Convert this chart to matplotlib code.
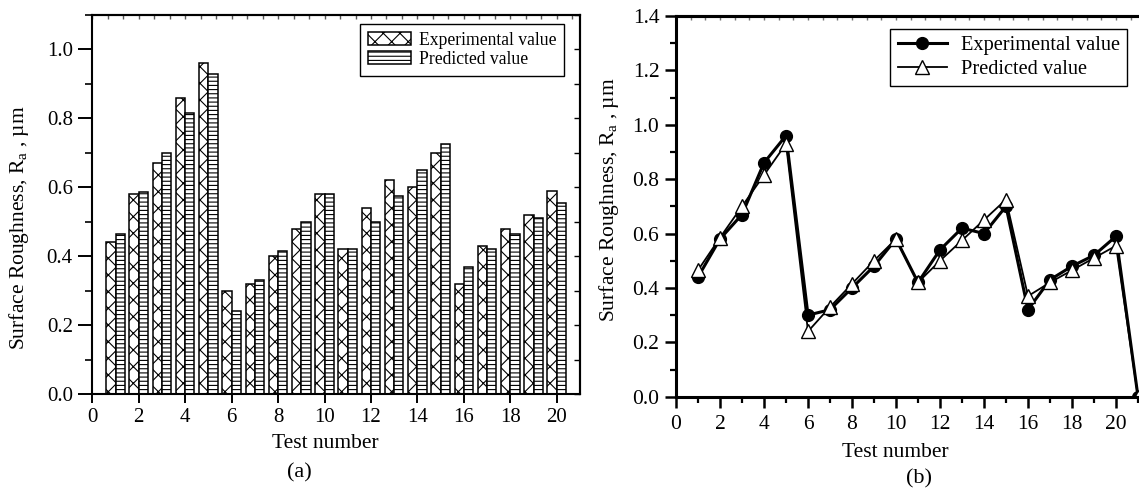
import numpy as np
import matplotlib
matplotlib.use("Agg")
import matplotlib.pyplot as plt
from matplotlib.ticker import MultipleLocator

plt.rcParams['font.family'] = ['Liberation Serif', 'DejaVu Serif']
plt.rcParams['mathtext.default'] = 'regular'
plt.rcParams['hatch.linewidth'] = 0.8

# test numbers and surface roughness Ra (um)
tests = list(range(1, 21))
experimental = [0.44, 0.58, 0.67, 0.86, 0.96, 0.30, 0.32, 0.40, 0.48, 0.58,
                0.42, 0.54, 0.62, 0.60, 0.70, 0.32, 0.43, 0.48, 0.52, 0.59]
predicted = [0.465, 0.585, 0.70, 0.815, 0.93, 0.24, 0.33, 0.415, 0.50, 0.58,
             0.42, 0.50, 0.575, 0.65, 0.725, 0.37, 0.42, 0.465, 0.51, 0.555]
# panel (b) has an extra trailing point at zero
tests_b = tests + [21]
experimental_b = experimental + [0.0]
predicted_b = predicted + [0.0]

ylabel = 'Surface Roughness, R$_a$ , \u00b5m'

W, H = 1139, 488
fig = plt.figure(figsize=(W / 100, H / 100), dpi=100)

# ---------------- (a) bar chart ----------------
ax1 = fig.add_axes([92.3 / W, 1 - 394 / H, (580 - 92.3) / W, (394 - 15) / H])
x = np.array(tests)
ax1.bar(x - 0.2, experimental, width=0.4, color='white', edgecolor='black',
        hatch='xx', linewidth=1.1, label='Experimental value')
ax1.bar(x + 0.2, predicted, width=0.4, color='white', edgecolor='black',
        hatch='----', linewidth=1.1, label='Predicted value')
ax1.set_xlim(0, 21)
ax1.set_ylim(0, 1.1)
ax1.xaxis.set_major_locator(MultipleLocator(2))
ax1.yaxis.set_major_locator(MultipleLocator(0.2))
ax1.yaxis.set_minor_locator(MultipleLocator(0.1))
ax1.yaxis.set_major_formatter(matplotlib.ticker.FormatStrFormatter('%.1f'))
ax1.tick_params(axis='x', which='major', direction='out', length=6.5, width=1.4,
                labelsize=15, pad=3.5)
ax1.tick_params(axis='y', which='major', direction='out', length=10, width=1.4,
                labelsize=15, pad=4)
ax1.tick_params(axis='y', which='minor', direction='out', length=5, width=1.2)
for s in ax1.spines.values():
    s.set_linewidth(1.5)
top1 = ax1.secondary_xaxis('top')
top1.xaxis.set_major_locator(MultipleLocator(2 / 3))
top1.tick_params(direction='in', length=3, width=1, color='0.35', labeltop=False)
top1.spines['top'].set_linewidth(1.5)
right1 = ax1.secondary_yaxis('right')
right1.yaxis.set_major_locator(MultipleLocator(0.1))
right1.tick_params(direction='in', length=4, width=1, labelright=False)
right1.spines['right'].set_linewidth(1.5)
ax1.set_xlabel('Test number', fontsize=15.5)
ax1.xaxis.set_label_coords(0.478, -0.105)
ax1.set_ylabel(ylabel, fontsize=15.5)
ax1.yaxis.set_label_coords(-0.126, 0.44)
leg1 = ax1.legend(loc='upper right', bbox_to_anchor=(564 / W, 1 - 24 / H),
                  bbox_transform=fig.transFigure, borderaxespad=0, fontsize=12.7,
                  fancybox=False, edgecolor='black', framealpha=1,
                  handlelength=2.4, handleheight=0.75, handletextpad=0.45,
                  labelspacing=0.12, borderpad=0.45)
leg1.get_frame().set_linewidth(1.0)

# ---------------- (b) line chart ----------------
ax2 = fig.add_axes([676 / W, 1 - 396.7 / H, 21.5 * 22 / W, (396.7 - 16) / H])
ax2.plot(tests_b, experimental_b, color='black', linewidth=2.2, marker='o',
         markersize=8.5, markerfacecolor='black', markeredgecolor='black',
         label='Experimental value')
ax2.plot(tests_b, predicted_b, color='black', linewidth=1.3, marker='^',
         markersize=10, markerfacecolor='white', markeredgecolor='black',
         markeredgewidth=1.0, label='Predicted value')
ax2.set_xlim(0, 21.5)
ax2.set_ylim(0, 1.4)
ax2.xaxis.set_major_locator(MultipleLocator(2))
ax2.xaxis.set_minor_locator(MultipleLocator(1))
ax2.yaxis.set_major_locator(MultipleLocator(0.2))
ax2.yaxis.set_minor_locator(MultipleLocator(0.1))
ax2.yaxis.set_major_formatter(matplotlib.ticker.FormatStrFormatter('%.1f'))
ax2.tick_params(which='major', direction='out', length=8, width=1.8,
                labelsize=15.5)
ax2.tick_params(axis='x', which='major', pad=5)
ax2.tick_params(axis='y', which='major', pad=4)
ax2.tick_params(which='minor', direction='out', length=4.5, width=1.6)
for s in ax2.spines.values():
    s.set_linewidth(2.2)
top2 = ax2.secondary_xaxis('top')
top2.xaxis.set_major_locator(MultipleLocator(2 / 3))
top2.tick_params(direction='in', length=3, width=1, color='0.45', labeltop=False)
top2.spines['top'].set_linewidth(2.2)
ax2.set_xlabel('Test number', fontsize=15.5)
ax2.xaxis.set_label_coords(0.464, -0.122)
ax2.set_ylabel(ylabel, fontsize=15.5)
ax2.yaxis.set_label_coords(-0.116, 0.517)
leg2 = ax2.legend(loc='upper right', bbox_to_anchor=(1127 / W, 1 - 29 / H),
                  bbox_transform=fig.transFigure, borderaxespad=0, fontsize=14.7,
                  fancybox=False, edgecolor='black', framealpha=1, numpoints=1,
                  handlelength=2.4, handletextpad=0.7, labelspacing=0.2,
                  borderpad=0.35)
leg2.get_frame().set_linewidth(1.0)

fig.text(299 / W, 1 - 473 / H, '(a)', fontsize=16, ha='center', va='center')
fig.text(919 / W, 1 - 469 / H, '(b)', fontsize=16, ha='center', va='top')

fig.savefig('out.png', dpi=100)
